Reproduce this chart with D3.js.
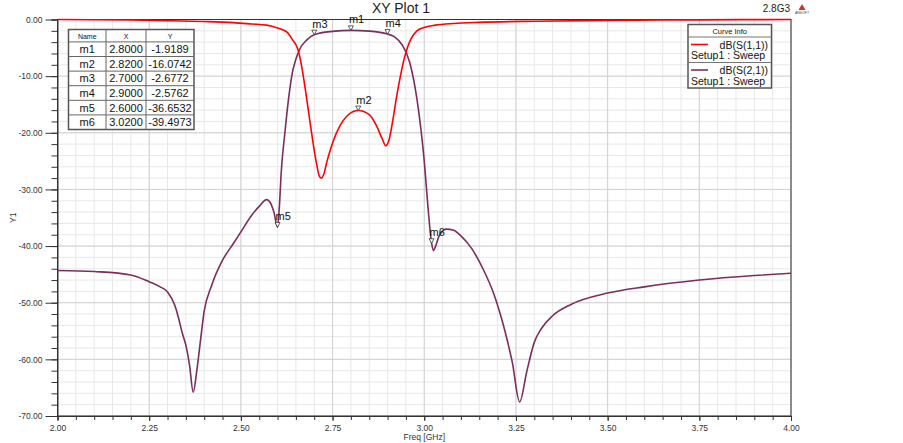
<!DOCTYPE html>
<html>
<head>
<meta charset="utf-8">
<script src="https://cdn.jsdelivr.net/npm/d3@7"></script>
<style>
  body { margin: 0; background: #fff; }
  svg { display: block; font-family: "Liberation Sans", Arial, sans-serif; }
</style>
</head>
<body>
<svg id="chart"></svg>
<script>
// chart size
const width = 903, height = 443;

// S11 readings (freq GHz, dB)
const s11Freq = [2.00, 2.20, 2.30, 2.40, 2.48, 2.53, 2.57, 2.60, 2.625, 2.64, 2.656, 2.665, 2.675, 2.685, 2.695, 2.705, 2.715, 2.72, 2.725, 2.735, 2.75, 2.77, 2.79, 2.82, 2.85, 2.87, 2.885, 2.895, 2.905, 2.915, 2.925, 2.935, 2.945, 2.955, 2.965, 2.98, 3.00, 3.03, 3.08, 3.15, 3.30, 3.50, 3.75, 4.00];
const s11dB   = [0, -0.1, -0.2, -0.35, -0.56, -0.8, -1.0, -1.5, -2.2, -3.5, -5.4, -8, -12, -16.5, -21, -25, -27.8, -28.0, -27.5, -25, -21.8, -18.8, -17, -16.07, -16.8, -18.8, -21, -22.3, -21, -17.5, -13.5, -10, -7, -4.8, -3.3, -2.0, -1.4, -1.0, -0.7, -0.5, -0.3, -0.15, -0.06, 0];

// S21 readings (freq GHz, dB)
const s21Freq = [2.00, 2.10, 2.20, 2.25, 2.28, 2.30, 2.32, 2.33, 2.34, 2.35, 2.36, 2.37, 2.38, 2.39, 2.40, 2.42, 2.45, 2.48, 2.50, 2.53, 2.55, 2.57, 2.58, 2.59, 2.60, 2.605, 2.61, 2.62, 2.63, 2.64, 2.65, 2.66, 2.68, 2.70, 2.75, 2.80, 2.85, 2.90, 2.92, 2.94, 2.96, 2.98, 3.00, 3.01, 3.02, 3.025, 3.03, 3.04, 3.06, 3.08, 3.10, 3.13, 3.16, 3.19, 3.22, 3.24, 3.26, 3.28, 3.30, 3.32, 3.35, 3.40, 3.50, 3.60, 3.75, 3.90, 4.00];
const s21dB   = [-44.3, -44.5, -45.1, -46.3, -47.2, -48.1, -50.5, -52.7, -55.3, -57.5, -61, -65.8, -61.9, -56.6, -51.5, -47, -42.5, -39.5, -37.5, -34.5, -33, -31.8, -32.3, -34, -36.65, -33, -27, -20, -14, -9.5, -7, -5.3, -3.6, -2.68, -2.1, -1.92, -2.05, -2.58, -3.1, -4.5, -7.5, -14, -25, -33, -39.5, -40.8, -40.2, -38.3, -37, -37.2, -38.2, -40.5, -44, -48.5, -55, -60.5, -67.5, -62, -57, -54.5, -52.3, -50.3, -48.3, -47.2, -46, -45.2, -44.8];

// markers
const markerNames = ["m1", "m2", "m3", "m4", "m5", "m6"];
const markerFreq  = [2.8, 2.82, 2.7, 2.9, 2.6, 3.02];
const markerdB    = [-1.9189, -16.0742, -2.6772, -2.5762, -36.6532, -39.4973];

// axis ticks
const xTicks = [2.00, 2.25, 2.50, 2.75, 3.00, 3.25, 3.50, 3.75, 4.00];
const yTicks = [0, -10, -20, -30, -40, -50, -60, -70];

const s11Color = "#ff0000", s21Color = "#7b2d5c";

const x = d3.scaleLinear().domain([2, 4]).range([57.5, 791]);
const y = d3.scaleLinear().domain([-70, 0]).range([416, 19.5]);

const svg = d3.select("#chart").attr("width", width).attr("height", height);

// grid
const grid = svg.append("g");
grid.selectAll("line.vmin")
  .data(d3.range(0, 41).map(i => 2 + i * 0.05))
  .join("line")
  .attr("x1", d => x(d)).attr("x2", d => x(d))
  .attr("y1", y(0)).attr("y2", y(-70))
  .attr("stroke", "#e8e8e8");
grid.selectAll("line.hmin")
  .data(d3.range(0, 36).map(i => -i * 2))
  .join("line")
  .attr("x1", x(2)).attr("x2", x(4))
  .attr("y1", d => y(d)).attr("y2", d => y(d))
  .attr("stroke", "#e8e8e8");
grid.append("g").selectAll("line")
  .data(xTicks)
  .join("line")
  .attr("x1", d => x(d)).attr("x2", d => x(d))
  .attr("y1", y(0)).attr("y2", y(-70))
  .attr("stroke", "#d2d2d2");
grid.append("g").selectAll("line")
  .data(yTicks)
  .join("line")
  .attr("x1", x(2)).attr("x2", x(4))
  .attr("y1", d => y(d)).attr("y2", d => y(d))
  .attr("stroke", "#d2d2d2");

// plot frame
svg.append("rect")
  .attr("x", x(2)).attr("y", y(0))
  .attr("width", x(4) - x(2)).attr("height", y(-70) - y(0))
  .attr("fill", "none").attr("stroke", "#333").attr("stroke-width", 1);

// axes
const fmt = d => d.toFixed(2);
const yAxis = svg.append("g")
  .attr("transform", `translate(${x(2)},0)`)
  .call(d3.axisLeft(y).tickValues(d3.range(0, 36).map(i => -i * 2)).tickSize(6).tickFormat(""));
yAxis.select(".domain").attr("stroke", "#333");
yAxis.selectAll(".tick line").attr("stroke", "#333");
const yAxisMaj = svg.append("g")
  .attr("transform", `translate(${x(2)},0)`)
  .call(d3.axisLeft(y).tickValues(yTicks).tickSize(12).tickPadding(3).tickFormat(fmt));
yAxisMaj.select(".domain").remove();
yAxisMaj.selectAll(".tick line").attr("stroke", "#333");
yAxisMaj.selectAll("text").attr("font-size", 8.5).attr("fill", "#333")
  .attr("font-family", "Liberation Sans, Arial, sans-serif");

const xAxis = svg.append("g")
  .attr("transform", `translate(0,${y(-70)})`)
  .call(d3.axisBottom(x).tickValues(d3.range(0, 41).map(i => 2 + i * 0.05)).tickSize(4).tickFormat(""));
xAxis.select(".domain").attr("stroke", "#333");
xAxis.selectAll(".tick line").attr("stroke", "#333");
const xAxisMaj = svg.append("g")
  .attr("transform", `translate(0,${y(-70)})`)
  .call(d3.axisBottom(x).tickValues(xTicks).tickSize(5).tickPadding(4).tickFormat(fmt));
xAxisMaj.select(".domain").remove();
xAxisMaj.selectAll(".tick line").attr("stroke", "#333");
xAxisMaj.selectAll("text").attr("font-size", 8.5).attr("fill", "#333")
  .attr("font-family", "Liberation Sans Narrow, Liberation Sans, Arial, sans-serif");

svg.append("text")
  .attr("x", (x(2) + x(4)) / 2 + 0).attr("y", 440)
  .attr("text-anchor", "middle").attr("font-size", 8.5).attr("fill", "#333")
  .text("Freq [GHz]");
svg.append("text")
  .attr("transform", `translate(16,${(y(0) + y(-70)) / 2}) rotate(-90)`)
  .attr("text-anchor", "middle").attr("font-size", 8.5).attr("fill", "#333")
  .text("Y1");

// curves
const line = d3.line()
  .x(d => x(d[0])).y(d => y(d[1]))
  .curve(d3.curveMonotoneX);
svg.append("path")
  .datum(s21Freq.map((f, i) => [f, s21dB[i]]))
  .attr("d", line).attr("fill", "none")
  .attr("stroke", s21Color).attr("stroke-width", 1.6);
svg.append("path")
  .datum(s11Freq.map((f, i) => [f, s11dB[i]]))
  .attr("d", line).attr("fill", "none")
  .attr("stroke", s11Color).attr("stroke-width", 1.6);

// markers
const mk = svg.append("g").selectAll("g")
  .data(markerNames.map((n, i) => ({ name: n, f: markerFreq[i], v: markerdB[i] })))
  .join("g")
  .attr("transform", d => `translate(${x(d.f)},${y(d.v)})`);
mk.append("path")
  .attr("d", "M0,0 L-2.5,-4.5 L2.5,-4.5 Z")
  .attr("fill", "#fff").attr("stroke", "#333").attr("stroke-width", 0.8);
mk.append("text")
  .attr("x", -2).attr("y", -7)
  .attr("font-size", 11).attr("fill", "#111")
  .text(d => d.name);

// marker table
const tbl = svg.append("g").attr("transform", "translate(68.5,29.5)");
const colX = [0, 37.5, 77.5, 125.5];
const rowH0 = 12.4, rowH = 14.6;
const tblH = rowH0 + rowH * markerNames.length;
tbl.append("rect").attr("width", colX[3]).attr("height", tblH)
  .attr("fill", "#fff").attr("stroke", "#555").attr("stroke-width", 1.5);
tbl.selectAll("line.c").data(colX.slice(1, 3)).join("line")
  .attr("x1", d => d).attr("x2", d => d).attr("y1", 0).attr("y2", tblH)
  .attr("stroke", "#666");
tbl.selectAll("line.r").data(d3.range(markerNames.length)).join("line")
  .attr("x1", 0).attr("x2", colX[3])
  .attr("y1", i => rowH0 + i * rowH).attr("y2", i => rowH0 + i * rowH)
  .attr("stroke", "#666");
const header = ["Name", "X", "Y"];
header.forEach((h, j) => {
  tbl.append("text").attr("x", (colX[j] + colX[j + 1]) / 2).attr("y", 9)
    .attr("text-anchor", "middle").attr("font-size", 7).attr("fill", "#111").text(h);
});
markerNames.forEach((n, i) => {
  const cells = [n, markerFreq[i].toFixed(4), markerdB[i].toFixed(4)];
  cells.forEach((c, j) => {
    tbl.append("text").attr("x", (colX[j] + colX[j + 1]) / 2)
      .attr("y", rowH0 + i * rowH + 11.2)
      .attr("text-anchor", "middle").attr("font-size", 11).attr("fill", "#111").text(c);
  });
});

// legend
const lg = svg.append("g").attr("transform", "translate(688,24.5)");
lg.append("rect").attr("width", 83.5).attr("height", 63.5)
  .attr("fill", "#fff").attr("stroke", "#555").attr("stroke-width", 1.5);
lg.append("line").attr("x1", 0).attr("x2", 83.5).attr("y1", 12.5).attr("y2", 12.5).attr("stroke", "#777");
lg.append("line").attr("x1", 0).attr("x2", 83.5).attr("y1", 38).attr("y2", 38).attr("stroke", "#777");
lg.append("text").attr("x", 41.75).attr("y", 9.5).attr("text-anchor", "middle")
  .attr("font-size", 7.5).attr("fill", "#111").text("Curve Info");
const legendNames = ["dB(S(1,1))", "dB(S(2,1))"];
const legendColors = [s11Color, s21Color];
legendNames.forEach((n, i) => {
  const oy = 12.5 + i * 25.5;
  lg.append("line").attr("x1", 3).attr("x2", 20).attr("y1", oy + 7.5).attr("y2", oy + 7.5)
    .attr("stroke", legendColors[i]).attr("stroke-width", 1.6);
  lg.append("text").attr("x", 80).attr("y", oy + 11.5).attr("text-anchor", "end")
    .attr("font-size", 10.5).attr("fill", "#111").text(n);
  lg.append("text").attr("x", 3).attr("y", oy + 22).attr("font-size", 10.5)
    .attr("fill", "#111").text("Setup1 : Sweep");
});

// title and stamp
svg.append("text").attr("x", 401).attr("y", 13).attr("text-anchor", "middle")
  .attr("font-size", 14).attr("fill", "#222").text("XY Plot 1");
svg.append("text").attr("x", 790).attr("y", 12).attr("text-anchor", "end")
  .attr("font-size", 10).attr("fill", "#222").text("2.8G3");
const logo = svg.append("g").attr("transform", "translate(802,0)");
logo.append("path").attr("d", "M0,4 L-3.5,10 L3.5,10 Z").attr("fill", "#c0392b");
logo.append("text").attr("x", 0).attr("y", 13.5).attr("text-anchor", "middle")
  .attr("font-size", 3.5).attr("fill", "#444").text("ANSOFT");
</script>
</body>
</html>
